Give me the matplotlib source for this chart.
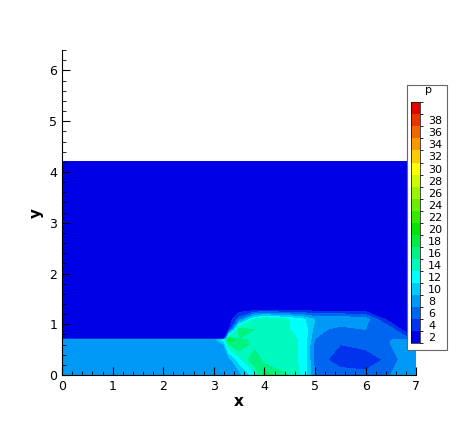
import numpy as np
import matplotlib
matplotlib.use("Agg")
import matplotlib.pyplot as plt
from matplotlib.colors import ListedColormap, BoundaryNorm
from matplotlib.patches import Rectangle

# grid nodes
x_nodes = [0, 3, 3.2, 3.3, 3.5, 3.8, 4, 4.5, 4.8, 5, 5.5, 6, 6.5, 6.8, 7]
y_nodes = [0, 0.3, 0.6, 0.69, 0.72, 0.9, 1.1, 1.3, 4.2]
p_values = [
    [8, 8, 8, 8, 8, 12, 18, 15, 12, 7, 6, 6, 7, 8, 8],
    [8, 8, 8, 8, 12, 17, 14, 14, 12, 6, 4, 3, 6, 8, 8],
    [8, 8, 9, 15, 17, 14, 14, 14, 12, 6, 5, 6, 7, 8, 8],
    [8, 8, 12, 18, 16, 14, 14, 14, 12, 7, 6, 6, 7, 9, 8],
    [1.5, 1.5, 1.5, 17, 15, 14, 14, 14, 12, 7, 6, 6, 7, 6, 1.5],
    [1.5, 1.5, 1.5, 3, 16, 15, 14, 13, 12, 8, 6, 7, 6, 1.5, 1.5],
    [1.5, 1.5, 1.5, 1.5, 6, 13, 15, 13, 11, 9, 9, 8, 1.5, 1.5, 1.5],
    [1.5] * 15,
    [1.5] * 15,
]
levels = np.arange(1, 43, 2)
tick_labels = np.arange(2, 40, 2)

# tecplot-like rainbow: blue -> cyan -> green -> yellow -> red
anchor_p = [2, 12, 20, 30, 40]
anchor_rgb = np.array([[0, 0, 0.9], [0, 1, 1], [0, 0.9, 0], [1, 1, 0], [0.9, 0, 0]])
centers = levels[:-1] + 1
colors = np.stack([np.interp(centers, anchor_p, anchor_rgb[:, i]) for i in range(3)], axis=1)
cmap = ListedColormap(colors)
norm = BoundaryNorm(levels, cmap.N)

fig = plt.figure(figsize=(4.74, 4.21), dpi=100)
ax = fig.add_axes([0.131, 0.109, 0.747, 0.772])
X, Y = np.meshgrid(x_nodes, y_nodes)
ax.contourf(X, Y, np.array(p_values), levels=levels, cmap=cmap, norm=norm)
ax.set_xlim(0, 7)
ax.set_ylim(0, 6.4)
ax.spines["top"].set_visible(False)
ax.spines["right"].set_visible(False)
ax.set_xticks(range(0, 8))
ax.set_yticks(range(0, 7))
ax.minorticks_on()
ax.tick_params(which="both", direction="in", labelsize=9)
ax.tick_params(which="major", length=6)
ax.tick_params(which="minor", length=3)
ax.set_xlabel("x", fontweight="bold", fontsize=11, labelpad=1)
ax.set_ylabel("y", fontweight="bold", fontsize=11, labelpad=4)

# legend box like tecplot
fig.patches.append(Rectangle((0.859, 0.168), 0.083, 0.63, transform=fig.transFigure,
                             facecolor="white", edgecolor="0.4", lw=0.8, zorder=5))
cax = fig.add_axes([0.867, 0.185, 0.019, 0.572], zorder=6)
cb = fig.colorbar(plt.cm.ScalarMappable(norm=norm, cmap=cmap), cax=cax)
cb.set_ticks(tick_labels)
cb.set_ticklabels([str(t) for t in tick_labels])
cb.ax.tick_params(length=0, labelsize=8, pad=6)
cb.outline.set_linewidth(0.5)
fig.text(0.905, 0.78, "p", fontsize=8, ha="center", zorder=7)

fig.savefig("out.png", dpi=100)
